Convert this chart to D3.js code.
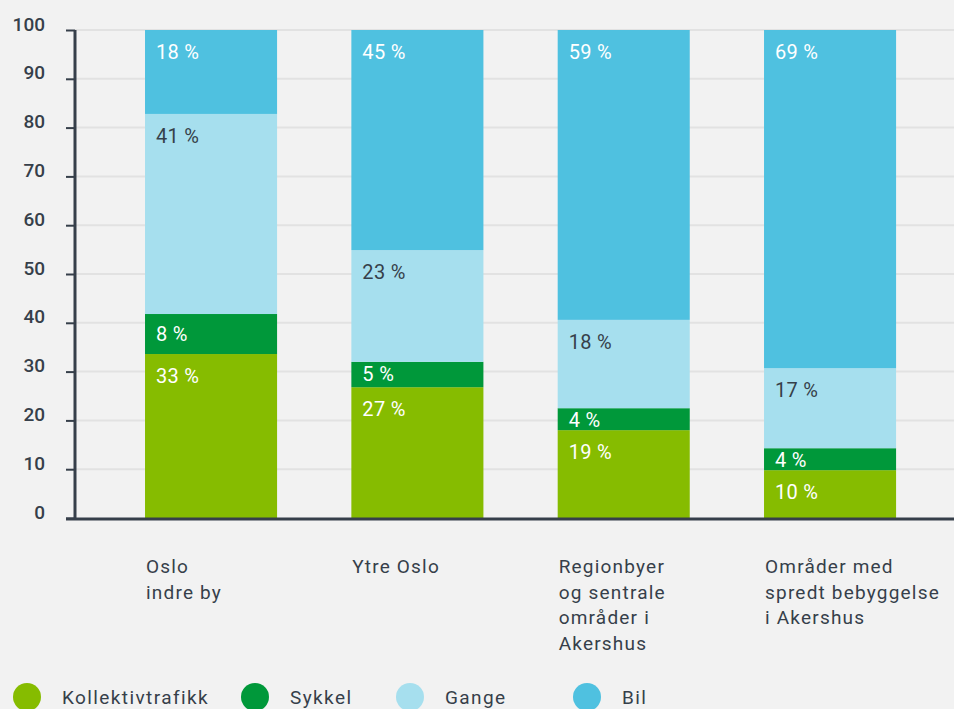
<!DOCTYPE html>
<html>
<head>
<meta charset="utf-8">
<script src="https://cdn.jsdelivr.net/npm/d3@7"></script>
<style>
  html, body { margin: 0; padding: 0; background: #f2f2f2; }
  svg { display: block; font-family: Roboto, "DejaVu Sans", sans-serif; }
</style>
</head>
<body>
<svg id="chart" width="954" height="709"></svg>
<script>
// regions and their transport shares (%)
const categories = [
  ["Oslo", "indre by"],
  ["Ytre Oslo"],
  ["Regionbyer", "og sentrale", "områder i", "Akershus"],
  ["Områder med", "spredt bebyggelse", "i Akershus"],
];
const seriesNames = ["Kollektivtrafikk", "Sykkel", "Gange", "Bil"];
const kollektiv = [33.6, 26.8, 18.0, 9.8];
const sykkel = [8.2, 5.2, 4.5, 4.5];
const gange = [41.0, 22.9, 18.1, 16.4];
const bil = [17.2, 45.1, 59.4, 69.3];
// printed labels
const kollektivLabels = ["33 %", "27 %", "19 %", "10 %"];
const sykkelLabels = ["8 %", "5 %", "4 %", "4 %"];
const gangeLabels = ["41 %", "23 %", "18 %", "17 %"];
const bilLabels = ["18 %", "45 %", "59 %", "69 %"];
const yTicks = [0, 10, 20, 30, 40, 50, 60, 70, 80, 90, 100];

const colors = ["#86bc00", "#00983a", "#a6dfee", "#4fc1e0"];
const textColors = ["#ffffff", "#ffffff", "#363f4a", "#ffffff"];
const ink = "#363f4a";

const width = 954;
const svg = d3.select("svg#chart");

const series = [kollektiv, sykkel, gange, bil];
const labels = [kollektivLabels, sykkelLabels, gangeLabels, bilLabels];
const rows = categories.map((c, i) => {
  const row = { i };
  seriesNames.forEach((s, k) => (row[s] = series[k][i]));
  return row;
});
const stacked = d3.stack().keys(seriesNames)(rows);

const x = d3.scaleBand()
  .domain(d3.range(categories.length))
  .range([72.8, 968.3])
  .paddingInner(0.36)
  .paddingOuter(0.35);
const y = d3.scaleLinear().domain([0, 100]).range([518, 30]);

const axisX = 75;

// gridlines
svg.append("g")
  .selectAll("line")
  .data(yTicks.filter((d) => d > 0))
  .join("line")
  .attr("x1", axisX)
  .attr("x2", width)
  .attr("y1", (d) => y(d))
  .attr("y2", (d) => y(d))
  .attr("stroke", "#e2e2e2")
  .attr("stroke-width", 2);

// y axis
const yAxis = svg.append("g")
  .attr("transform", `translate(${axisX},0)`)
  .call(d3.axisLeft(y).tickValues(yTicks).tickSize(9).tickPadding(21));
yAxis.select(".domain").attr("stroke", ink).attr("stroke-width", 3)
  .attr("d", `M0,${y(100)}V${y(0) + 1}`);
yAxis.selectAll(".tick line").attr("stroke", ink).attr("stroke-width", 2);
yAxis.selectAll(".tick text")
  .attr("fill", ink)
  .attr("font-size", 19)
  .attr("font-weight", 500)
  .attr("font-family", "Roboto, sans-serif")
  .attr("dy", "0em");

// stacked bars
const layer = svg.append("g")
  .selectAll("g")
  .data(stacked)
  .join("g")
  .attr("fill", (d, k) => colors[k]);
layer.selectAll("rect")
  .data((d) => d)
  .join("rect")
  .attr("x", (d) => x(d.data.i))
  .attr("width", x.bandwidth())
  .attr("y", (d) => y(d[1]))
  .attr("height", (d) => y(d[0]) - y(d[1]));

// segment labels
stacked.forEach((s, k) => {
  svg.append("g")
    .selectAll("text")
    .data(s)
    .join("text")
    .attr("x", (d) => x(d.data.i) + 11)
    .attr("y", (d) => {
      const h = y(d[0]) - y(d[1]);
      return y(d[1]) + (h < 30 ? 19 : h < 45 ? 27 : 29);
    })
    .attr("fill", textColors[k])
    .attr("font-size", 20)
    .attr("letter-spacing", 0.3)
    .text((d) => labels[k][d.data.i]);
});

// baseline
svg.append("line")
  .attr("x1", 66)
  .attr("x2", width)
  .attr("y1", y(0) + 1)
  .attr("y2", y(0) + 1)
  .attr("stroke", ink)
  .attr("stroke-width", 3);

// category labels
svg.append("g")
  .selectAll("text")
  .data(categories)
  .join("text")
  .attr("x", (d, i) => x(i) + 1)
  .attr("y", 573)
  .attr("fill", ink)
  .attr("font-size", 19)
  .attr("letter-spacing", 1.2)
  .selectAll("tspan")
  .data((d) => d)
  .join("tspan")
  .attr("x", function () { return this.parentNode.getAttribute("x"); })
  .attr("dy", (d, j) => (j === 0 ? 0 : 25.7))
  .text((d) => d);

// legend
const legendX = [27, 255, 410, 587];
const legend = svg.append("g")
  .selectAll("g")
  .data(seriesNames)
  .join("g")
  .attr("transform", (d, k) => `translate(${legendX[k]},697)`);
legend.append("circle")
  .attr("r", 14)
  .attr("fill", (d, k) => colors[k]);
legend.append("text")
  .attr("x", 35)
  .attr("dy", "0.35em")
  .attr("fill", ink)
  .attr("font-size", 19)
  .attr("letter-spacing", 1.4)
  .text((d) => d);
</script>
</body>
</html>
